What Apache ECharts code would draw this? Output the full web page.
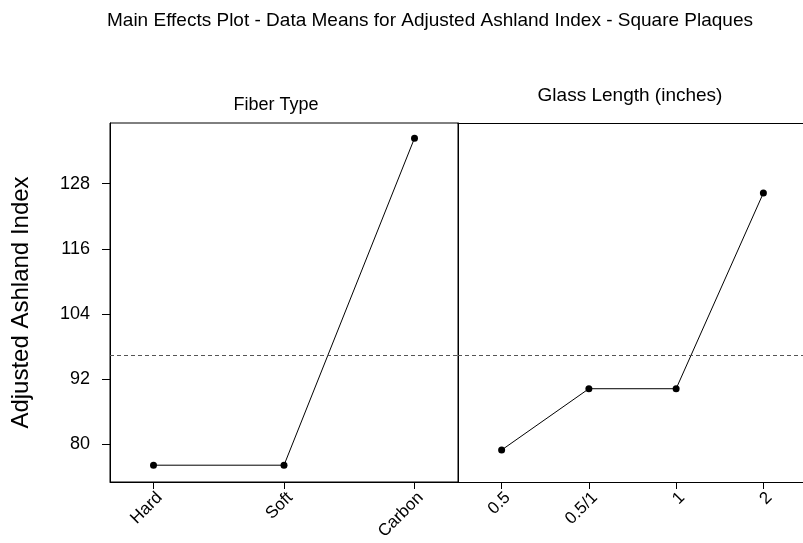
<!DOCTYPE html>
<html>
<head>
<meta charset="utf-8">
<script src="https://cdn.jsdelivr.net/npm/echarts@6/dist/echarts.min.js"></script>
<style>
html,body{margin:0;padding:0;background:#fff;}
#chart{width:803px;height:543px;}
</style>
</head>
<body>
<div id="chart"></div>
<script>
// ---- data ----
const chartTitle = 'Main Effects Plot - Data Means for Adjusted Ashland Index - Square Plaques';
const yAxisTitle = 'Adjusted Ashland Index';
const panelTitles = ['Fiber Type', 'Glass Length (inches)'];
const fiberCategories = ['Hard', 'Soft', 'Carbon'];
const fiberMeans = [76.1, 76.1, 136.4];
const lengthCategories = ['0.5', '0.5/1', '1', '2'];
const lengthMeans = [78.9, 90.2, 90.2, 126.3];
const grandMean = 96.3;
const yTicks = [80, 92, 104, 116, 128];

const FONT = '"Liberation Sans Narrow", "Liberation Sans", Arial, sans-serif';
const chart = echarts.init(document.getElementById('chart'));

function xAxisFor(gridIndex, cats, pad) {
  const idx = cats.map((c, i) => i);
  return {
    type: 'value', gridIndex: gridIndex,
    min: -pad, max: cats.length - 1 + pad,
    axisLine: { show: true, onZero: false, lineStyle: { color: '#000', width: 1 } },
    axisTick: { show: true, customValues: idx, length: 7, inside: false, lineStyle: { color: '#000' } },
    axisLabel: {
      show: true, customValues: idx, rotate: 45, margin: 7,
      verticalAlign: 'top',
      color: '#000', fontFamily: FONT, fontSize: 17,
      formatter: v => cats[Math.round(v)]
    },
    splitLine: { show: false }
  };
}

const lineSeries = (gi, vals) => ({
  type: 'line', xAxisIndex: gi, yAxisIndex: gi,
  data: vals.map((v, i) => [i, v]),
  symbol: 'circle', symbolSize: 7,
  itemStyle: { color: '#000' },
  lineStyle: { color: '#000', width: 1 },
  silent: true, animation: false,
  markLine: {
    silent: true, symbol: 'none', animation: false,
    label: { show: false },
    lineStyle: { color: '#555', type: [4, 3], width: 1 },
    data: [{ yAxis: grandMean }]
  }
});

chart.setOption({
  animation: false,
  backgroundColor: '#fff',
  title: [
    { text: chartTitle, left: 430, top: 11, padding: 0, textAlign: 'center',
      textStyle: { fontFamily: FONT, fontSize: 19, fontWeight: 'normal', color: '#000' } },
    { text: panelTitles[0], left: 276, top: 96, padding: 0, textAlign: 'center',
      textStyle: { fontFamily: FONT, fontSize: 18, fontWeight: 'normal', color: '#000' } },
    { text: panelTitles[1], left: 630, top: 86, padding: 0, textAlign: 'center',
      textStyle: { fontFamily: FONT, fontSize: 19, fontWeight: 'normal', color: '#000' } }
  ],
  grid: [
    { left: 110, top: 123, width: 348, height: 359, show: true, borderColor: '#000', borderWidth: 1, outerBoundsMode: 'none' },
    { left: 458, top: 123, width: 349, height: 359, show: false, outerBoundsMode: 'none' }
  ],
  xAxis: [
    xAxisFor(0, fiberCategories, 1 / 3),
    xAxisFor(1, lengthCategories, 0.5),
    {
      type: 'value', gridIndex: 1, position: 'top', min: -0.5, max: 3.5,
      axisLine: { show: true, onZero: false, lineStyle: { color: '#000', width: 1 } },
      axisTick: { show: false }, axisLabel: { show: false }, splitLine: { show: false }
    }
  ],
  yAxis: [
    {
      type: 'value', gridIndex: 0, min: 73, max: 139.2,
      name: yAxisTitle, nameLocation: 'middle', nameGap: 77, nameRotate: 90,
      nameTextStyle: { fontFamily: '"Liberation Sans", Arial, sans-serif', fontSize: 24, color: '#000' },
      axisLine: { show: true, onZero: false, lineStyle: { color: '#000' } },
      axisTick: { show: true, customValues: yTicks, length: 8, lineStyle: { color: '#000' } },
      axisLabel: { show: true, customValues: yTicks, margin: 20, color: '#000', fontFamily: FONT, fontSize: 18 },
      splitLine: { show: false }
    },
    {
      type: 'value', gridIndex: 1, min: 73, max: 139.2,
      axisLine: { show: true, onZero: false, lineStyle: { color: '#000', width: 1 } },
      axisTick: { show: false }, axisLabel: { show: false },
      splitLine: { show: false }
    }
  ],
  series: [lineSeries(0, fiberMeans), lineSeries(1, lengthMeans)]
});
</script>
</body>
</html>
